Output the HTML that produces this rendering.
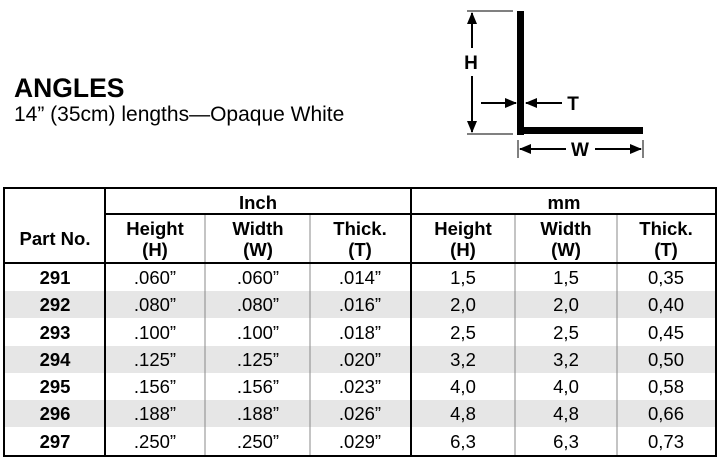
<!DOCTYPE html>
<html><head><meta charset="utf-8"><style>
html,body{margin:0;padding:0;background:#fff;}
svg{display:block;font-family:"Liberation Sans",Arial,sans-serif;}
</style></head><body>
<svg width="720" height="459" viewBox="0 0 720 459" xmlns="http://www.w3.org/2000/svg">
<defs>
<marker id="ah" markerWidth="12" markerHeight="10" refX="11" refY="5" orient="auto" markerUnits="userSpaceOnUse">
<path d="M0,0 L12,5 L0,10 z" fill="#000"/></marker>
</defs>
<text x="14" y="97" font-size="26.5" font-weight="bold">ANGLES</text>
<text x="14" y="121" font-size="21">14” (35cm) lengths—Opaque White</text>
<rect x="517" y="11" width="7" height="124" fill="#000"/>
<rect x="517" y="127" width="126" height="7" fill="#000"/>
<line x1="467" y1="11" x2="513" y2="11" stroke="#000" stroke-width="1"/>
<line x1="467" y1="134" x2="513" y2="134" stroke="#000" stroke-width="1"/>
<line x1="472" y1="48" x2="472" y2="13" stroke="#000" stroke-width="2" marker-end="url(#ah)"/>
<line x1="472" y1="76" x2="472" y2="132" stroke="#000" stroke-width="2" marker-end="url(#ah)"/>
<text x="471" y="69" font-size="19" font-weight="bold" text-anchor="middle">H</text>
<line x1="481" y1="103" x2="516" y2="103" stroke="#000" stroke-width="2" marker-end="url(#ah)"/>
<line x1="562" y1="103" x2="526" y2="103" stroke="#000" stroke-width="2" marker-end="url(#ah)"/>
<text x="573" y="110" font-size="19" font-weight="bold" text-anchor="middle">T</text>
<line x1="518" y1="140" x2="518" y2="158" stroke="#000" stroke-width="1"/>
<line x1="643" y1="140" x2="643" y2="158" stroke="#000" stroke-width="1"/>
<line x1="566" y1="149" x2="520" y2="149" stroke="#000" stroke-width="2" marker-end="url(#ah)"/>
<line x1="595" y1="149" x2="641" y2="149" stroke="#000" stroke-width="2" marker-end="url(#ah)"/>
<text x="580" y="156" font-size="19" font-weight="bold" text-anchor="middle">W</text>
<g fill="#e6e6e6">
<rect x="4" y="291" width="712" height="27"/>
<rect x="4" y="346" width="712" height="27"/>
<rect x="4" y="400" width="712" height="27"/>
</g>
<g stroke="#888" stroke-width="1">
<line x1="205" y1="215" x2="205" y2="455"/>
<line x1="310" y1="215" x2="310" y2="455"/>
<line x1="515" y1="215" x2="515" y2="455"/>
<line x1="617" y1="215" x2="617" y2="455"/>
</g>
<g stroke="#000" fill="none">
<rect x="4" y="188" width="712" height="268" stroke-width="2"/>
<line x1="105" y1="214" x2="716" y2="214" stroke-width="2"/>
<line x1="4" y1="263" x2="716" y2="263" stroke-width="2"/>
<line x1="105" y1="188" x2="105" y2="456" stroke-width="2"/>
<line x1="411" y1="188" x2="411" y2="456" stroke-width="2"/>
</g>
<g font-size="18.5" font-weight="bold" text-anchor="middle">
<text x="258" y="209">Inch</text>
<text x="564" y="209">mm</text>
<text x="55" y="245">Part No.</text>
<text x="155" y="235">Height</text><text x="155" y="256">(H)</text>
<text x="258" y="235">Width</text><text x="258" y="256">(W)</text>
<text x="360" y="235">Thick.</text><text x="360" y="256">(T)</text>
<text x="463" y="235">Height</text><text x="463" y="256">(H)</text>
<text x="566" y="235">Width</text><text x="566" y="256">(W)</text>
<text x="666" y="235">Thick.</text><text x="666" y="256">(T)</text>
</g>
<g font-size="18.5" text-anchor="middle">
<g font-weight="bold">
<text x="55" y="284">291</text><text x="55" y="311">292</text><text x="55" y="339">293</text>
<text x="55" y="366">294</text><text x="55" y="393">295</text><text x="55" y="420">296</text><text x="55" y="448">297</text>
</g>
<text x="155" y="284">.060”</text><text x="258" y="284">.060”</text><text x="360" y="284">.014”</text><text x="463" y="284">1,5</text><text x="566" y="284">1,5</text><text x="666" y="284">0,35</text>
<text x="155" y="311">.080”</text><text x="258" y="311">.080”</text><text x="360" y="311">.016”</text><text x="463" y="311">2,0</text><text x="566" y="311">2,0</text><text x="666" y="311">0,40</text>
<text x="155" y="339">.100”</text><text x="258" y="339">.100”</text><text x="360" y="339">.018”</text><text x="463" y="339">2,5</text><text x="566" y="339">2,5</text><text x="666" y="339">0,45</text>
<text x="155" y="366">.125”</text><text x="258" y="366">.125”</text><text x="360" y="366">.020”</text><text x="463" y="366">3,2</text><text x="566" y="366">3,2</text><text x="666" y="366">0,50</text>
<text x="155" y="393">.156”</text><text x="258" y="393">.156”</text><text x="360" y="393">.023”</text><text x="463" y="393">4,0</text><text x="566" y="393">4,0</text><text x="666" y="393">0,58</text>
<text x="155" y="420">.188”</text><text x="258" y="420">.188”</text><text x="360" y="420">.026”</text><text x="463" y="420">4,8</text><text x="566" y="420">4,8</text><text x="666" y="420">0,66</text>
<text x="155" y="448">.250”</text><text x="258" y="448">.250”</text><text x="360" y="448">.029”</text><text x="463" y="448">6,3</text><text x="566" y="448">6,3</text><text x="666" y="448">0,73</text>
</g>
</svg>
</body></html>
